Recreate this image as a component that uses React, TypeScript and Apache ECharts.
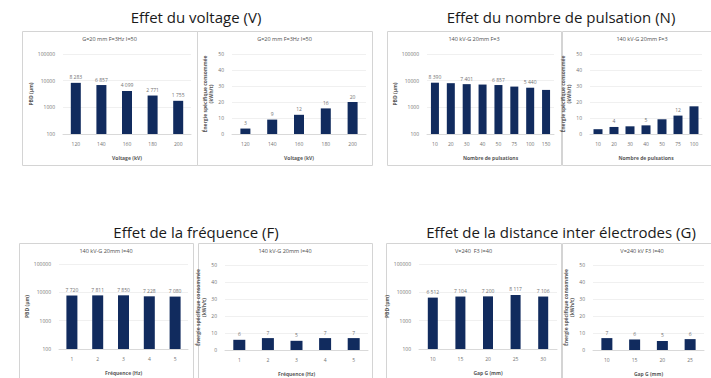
import React, { useEffect, useRef } from "react";
import * as echarts from "echarts";

// ---- Data ----
const voltageCats = ["120", "140", "160", "180", "200"];
const voltagePbd = [8283, 6857, 4099, 2771, 1755];
const voltageEnergy = [3.4, 9, 12, 16, 20];

const pulseCats = ["10", "20", "30", "40", "50", "75", "100", "150"];
const pulsePbd = [8390, 8050, 7401, 7150, 6857, 6000, 5440, 4500];
const pulsePbdLabelIdx = [0, 2, 4, 6];
const pulseCatsEnergy = ["10", "20", "30", "40", "50", "75", "100"];
const pulseEnergy = [3, 4.4, 4.8, 5.4, 9.2, 11.5, 17.3];
const pulseEnergyLabelIdx = [1, 3, 5];

const freqCats = ["1", "2", "3", "4", "5"];
const freqPbd = [7720, 7811, 7850, 7228, 7080];
const freqEnergy = [6, 7, 5.4, 7, 7];

const gapCats = ["10", "15", "20", "25", "30"];
const gapPbd = [6512, 7104, 7200, 8117, 7106];
const gapCatsEnergy = ["10", "15", "20", "25"];
const gapEnergy = [7, 6.2, 5.3, 6.4];

const sectionTitles = [
  "Effet du voltage (V)",
  "Effet du nombre de pulsation (N)",
  "Effet de la fréquence (F)",
  "Effet de la distance inter électrodes (G)",
];
const subTitles = [
  "G=20 mm F=3Hz I=50",
  "G=20 mm F=3Hz I=50",
  "140 kV-G 20mm F=3",
  "140 kV-G 20mm F=3",
  "140 kV-G 20mm I=40",
  "140 kV-G 20mm I=40",
  "V=240  F3 I=40",
  "V=240 kV F3 I=40",
];
const xNames = [
  "Voltage (kV)",
  "Voltage (kV)",
  "Nombre de pulsations",
  "Nombre de pulsations",
  "Fréquence (Hz)",
  "Fréquence (Hz)",
  "Gap G (mm)",
  "Gap G (mm)",
];
const pbdName = "PBD (µm)";
const energyName = "Énergie spécifique consommée\n(kWh/t)";

const BAR = "#112b5e";
const FONT = "'Open Sans', 'Noto Sans', sans-serif";

const fmtSpace = (v: number) =>
  Math.round(v).toString().replace(/\B(?=(\d{3})+(?!\d))/g, " ");

type Panel = {
  kind: "log" | "lin";
  cats: string[];
  values: number[];
  labelIdx?: number[];
  grid: { left: number; top: number; width: number; height: number };
  box: [number, number, number, number];
  barWidth: number;
};

export default function App() {
  const ref = useRef<HTMLDivElement>(null);
  useEffect(() => {
    const chart = echarts.init(ref.current!, null, { renderer: "svg" });

    const panels: Panel[] = [
      { kind: "log", cats: voltageCats, values: voltagePbd, grid: { left: 63, top: 54, width: 128, height: 80 }, box: [22, 31, 175, 134], barWidth: 10 },
      { kind: "lin", cats: voltageCats, values: voltageEnergy, grid: { left: 232, top: 54, width: 134, height: 80 }, box: [197, 31, 175, 134], barWidth: 10 },
      { kind: "log", cats: pulseCats, values: pulsePbd, labelIdx: pulsePbdLabelIdx, grid: { left: 427, top: 54, width: 127, height: 80 }, box: [387, 31, 174, 134], barWidth: 8 },
      { kind: "lin", cats: pulseCatsEnergy, values: pulseEnergy, labelIdx: pulseEnergyLabelIdx, grid: { left: 590, top: 54, width: 112, height: 80 }, box: [562, 31, 160, 134], barWidth: 9 },
      { kind: "log", cats: freqCats, values: freqPbd, grid: { left: 59, top: 264, width: 129, height: 85 }, box: [19, 243, 174, 140], barWidth: 11 },
      { kind: "lin", cats: freqCats, values: freqEnergy, grid: { left: 225, top: 265, width: 143, height: 85 }, box: [198, 243, 174, 140], barWidth: 12 },
      { kind: "log", cats: gapCats, values: gapPbd, grid: { left: 419, top: 264, width: 138, height: 85 }, box: [386, 243, 175, 140], barWidth: 10 },
      { kind: "lin", cats: gapCatsEnergy, values: gapEnergy, grid: { left: 593, top: 265, width: 111, height: 85 }, box: [562, 243, 160, 140], barWidth: 11 },
    ];

    const grids: any[] = [];
    const xAxes: any[] = [];
    const yAxes: any[] = [];
    const series: any[] = [];
    const graphics: any[] = [];

    panels.forEach((p, i) => {
      grids.push({ ...p.grid, containLabel: false });
      xAxes.push({
        type: "category",
        gridIndex: i,
        data: p.cats,
        axisTick: { show: false },
        axisLine: { lineStyle: { color: "#d9d9d9" } },
        axisLabel: { fontSize: 5, color: "#737373", margin: 7, fontFamily: FONT },
        name: xNames[i],
        nameLocation: "middle",
        nameGap: 21,
        nameTextStyle: { fontSize: 5, fontWeight: "bold", color: "#595959", fontFamily: FONT },
      });
      if (p.kind === "log") {
        yAxes.push({
          type: "log",
          logBase: 10,
          min: 100,
          max: 100000,
          gridIndex: i,
          axisLine: { show: false },
          axisTick: { show: false },
          splitLine: { lineStyle: { color: "#e6e6e6", width: 0.6 } },
          axisLabel: { fontSize: 5, color: "#737373", margin: 8, fontFamily: FONT, formatter: (v: number) => String(Math.round(v)) },
          name: pbdName,
          nameLocation: "middle",
          nameGap: 30,
          nameRotate: 90,
          nameTextStyle: { fontSize: 5, fontWeight: "bold", color: "#595959", fontFamily: FONT },
        });
      } else {
        yAxes.push({
          type: "value",
          min: 0,
          max: 50,
          interval: 10,
          gridIndex: i,
          axisLine: { show: false },
          axisTick: { show: false },
          splitLine: { lineStyle: { color: "#e6e6e6", width: 0.6 } },
          axisLabel: { fontSize: 5, color: "#737373", margin: 8, fontFamily: FONT },
          name: energyName,
          nameLocation: "middle",
          nameGap: 18,
          nameRotate: 90,
          nameTextStyle: { fontSize: 5, fontWeight: "bold", color: "#595959", fontFamily: FONT, lineHeight: 6 },
        });
      }
      series.push({
        type: "bar",
        xAxisIndex: i,
        yAxisIndex: i,
        data: p.values,
        barWidth: p.barWidth,
        itemStyle: { color: BAR },
        clip: true,
        label: {
          show: true,
          position: "top",
          distance: 3,
          fontSize: 5,
          color: "#737373",
          fontFamily: FONT,
          formatter: (prm: any) => {
            const v = prm.value;
            if (p.labelIdx && !p.labelIdx.includes(prm.dataIndex)) return "";
            return p.kind === "log" ? fmtSpace(v) : String(Math.round(v));
          },
        },
      });
      graphics.push({
        type: "rect",
        shape: { x: p.box[0] + 0.5, y: p.box[1] + 0.5, width: p.box[2], height: p.box[3] },
        style: { fill: "none", stroke: "#d4d4d4", lineWidth: 1 },
        z: -1,
      });
      graphics.push({
        type: "text",
        x: p.box[0] + p.box[2] / 2,
        y: p.box[1] + 8,
        style: { text: subTitles[i], fontSize: 5.5, fill: "#4d4d4d", fontFamily: FONT, align: "center", verticalAlign: "middle" },
      });
    });

    const titlePos: [number, number][] = [
      [196, 17],
      [561, 17],
      [196, 232],
      [561, 232],
    ];
    sectionTitles.forEach((t, i) => {
      graphics.push({
        type: "text",
        x: titlePos[i][0],
        y: titlePos[i][1],
        style: { text: t, fontSize: 15, fill: "#1a1a1a", fontFamily: FONT, align: "center", verticalAlign: "middle" },
      });
    });

    chart.setOption({
      animation: false,
      backgroundColor: "#ffffff",
      grid: grids,
      xAxis: xAxes,
      yAxis: yAxes,
      series,
      graphic: graphics,
    });
    return () => chart.dispose();
  }, []);
  return (
    <div
      ref={ref}
      style={{ position: "fixed", left: 0, top: 0, width: 711, height: 378, background: "#fff" }}
    />
  );
}
